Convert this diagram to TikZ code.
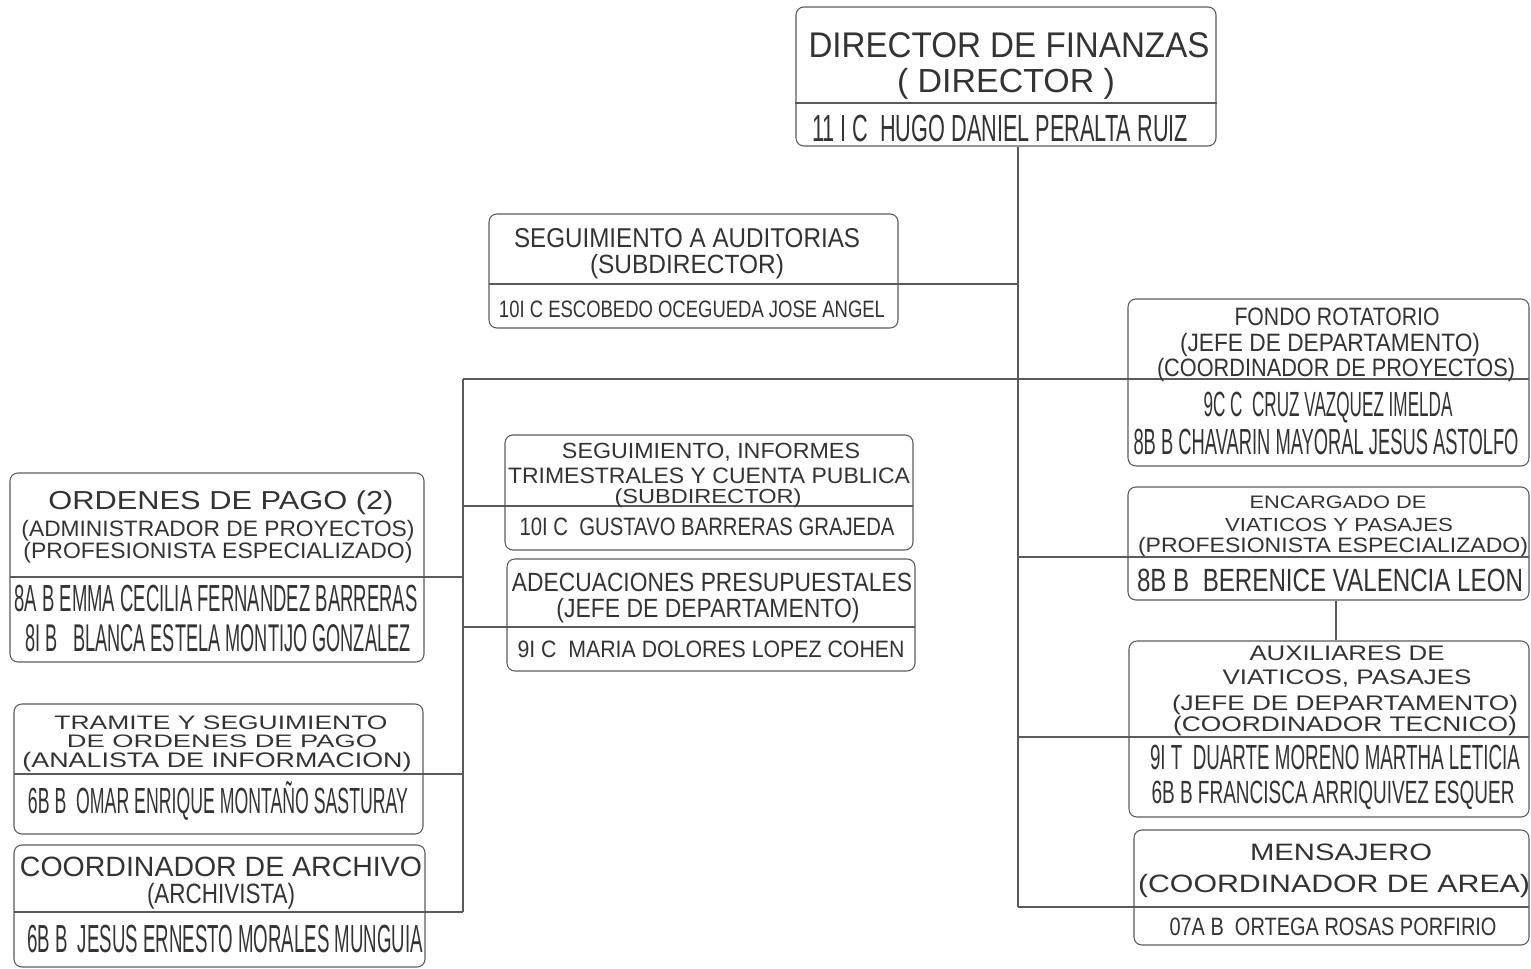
\documentclass[tikz,border=0pt]{standalone}
\usepackage{fontspec}
\setmainfont{Liberation Sans}
\usepackage{graphicx}
\usetikzlibrary{fit}
\definecolor{inkgray}{HTML}{333333}
\definecolor{linegray}{HTML}{5A5A5A}
\newlength{\px}
\setlength{\px}{0.02cm}
% size (pt), width (px), text
\newcommand{\orgtxt}[3]{\resizebox{#2\px}{\height}{\fontsize{#1}{#1}\selectfont #3}}
\tikzset{
  orgbox/.style={draw=linegray, line width=0.6pt, rounded corners=4.5pt, inner sep=0pt},
  lbl/.style={anchor=base, inner sep=0pt, text=inkgray},
  link/.style={draw=linegray, line width=0.6pt},
}

\begin{document}
\begin{tikzpicture}[x=0.02cm, y=-0.02cm]
  \useasboundingbox (0,0) rectangle (1531,969);

  % Boxes
  \node[orgbox, fit={(796,7) (1216,146)}] (dir) {};
  \node[orgbox, fit={(489,214) (898,328)}] (aud) {};
  \node[orgbox, fit={(1128,299) (1529,466)}] (fondo) {};
  \node[orgbox, fit={(10,473) (424,662)}] (ordenes) {};
  \node[orgbox, fit={(505,435) (913,550)}] (informes) {};
  \node[orgbox, fit={(507,559) (915,671)}] (adecua) {};
  \node[orgbox, fit={(1128,487) (1529,600)}] (encargado) {};
  \node[orgbox, fit={(1129,641) (1529,817)}] (auxiliar) {};
  \node[orgbox, fit={(1134,830) (1529,945)}] (mensajero) {};
  \node[orgbox, fit={(14,704) (423,834)}] (tramite) {};
  \node[orgbox, fit={(14,845) (425,967)}] (archivo) {};

  % Trunks and dividers
  \coordinate (trunk) at (1018,0);
  \coordinate (ltrunk) at (463,379);
  \coordinate (viat) at (1336,0);
  \coordinate (dir-div) at (795,103);
  \coordinate (aud-div) at (489,284);
  \coordinate (fondo-div) at (1529,379);
  \coordinate (ordenes-div) at (10,577);
  \coordinate (informes-div) at (913,506);
  \coordinate (adecua-div) at (915,627);
  \coordinate (encargado-div) at (1529,557);
  \coordinate (auxiliar-div) at (1529,737);
  \coordinate (mensajero-div) at (1529,907);
  \coordinate (tramite-div) at (14,774);
  \coordinate (archivo-div) at (14,912);

  % Links
  \draw[link] (dir-div) -- (dir-div -| dir.east);
  \draw[link] (dir.south -| trunk) -- (mensajero-div -| trunk);
  \draw[link] (aud-div) -- (aud-div -| trunk);
  \draw[link] (fondo-div) -- (ltrunk);
  \draw[link] (ltrunk) -- (archivo-div -| ltrunk);
  \draw[link] (ordenes-div) -- (ordenes-div -| ltrunk);
  \draw[link] (informes-div) -- (informes-div -| ltrunk);
  \draw[link] (adecua-div) -- (adecua-div -| ltrunk);
  \draw[link] (tramite-div) -- (tramite-div -| ltrunk);
  \draw[link] (archivo-div) -- (archivo-div -| ltrunk);
  \draw[link] (encargado-div) -- (encargado-div -| trunk);
  \draw[link] (auxiliar-div) -- (auxiliar-div -| trunk);
  \draw[link] (mensajero-div) -- (mensajero-div -| trunk);
  \draw[link] (encargado.south -| viat) -- (auxiliar.north -| viat);

  % Director
  \node[lbl] (dir-t1) at (1009,58) {\orgtxt{20.3}{401}{DIRECTOR DE FINANZAS}};
  \node[lbl] (dir-t2) at (1006,93) {\orgtxt{19}{218}{( DIRECTOR )}};
  \node[lbl] (dir-n1) at (1000,142) {\orgtxt{21.5}{376}{11 I C~ HUGO DANIEL PERALTA RUIZ}};

  % Seguimiento a auditorias
  \node[lbl] (aud-t1) at (687,248) {\orgtxt{15.5}{346}{SEGUIMIENTO A AUDITORIAS}};
  \node[lbl] (aud-t2) at (687,274) {\orgtxt{15}{194}{(SUBDIRECTOR)}};
  \node[lbl] (aud-n1) at (692,317.5) {\orgtxt{13.5}{386}{10I C ESCOBEDO OCEGUEDA JOSE ANGEL}};

  % Fondo rotatorio
  \node[lbl] (fondo-t1) at (1337,326) {\orgtxt{14.3}{205}{FONDO ROTATORIO}};
  \node[lbl] (fondo-t2) at (1330,352) {\orgtxt{14.3}{300}{(JEFE DE DEPARTAMENTO)}};
  \node[lbl] (fondo-t3) at (1336,377) {\orgtxt{14.3}{358}{(COORDINADOR DE PROYECTOS)}};
  \node[lbl] (fondo-n1) at (1328,417) {\orgtxt{19.9}{249}{9C C~ CRUZ VAZQUEZ IMELDA}};
  \node[lbl] (fondo-n2) at (1326,454) {\orgtxt{20.7}{385}{8B B CHAVARIN MAYORAL JESUS ASTOLFO}};

  % Ordenes de pago
  \node[lbl] (ordenes-t1) at (221,509) {\orgtxt{14.8}{345}{ORDENES DE PAGO (2)}};
  \node[lbl] (ordenes-t2) at (218,536.5) {\orgtxt{12.7}{393}{(ADMINISTRADOR DE PROYECTOS)}};
  \node[lbl] (ordenes-t3) at (218,558) {\orgtxt{12.7}{389}{(PROFESIONISTA ESPECIALIZADO)}};
  \node[lbl] (ordenes-n1) at (216,611.5) {\orgtxt{21.5}{403}{8A B EMMA CECILIA FERNANDEZ BARRERAS}};
  \node[lbl] (ordenes-n2) at (218,651) {\orgtxt{22}{385}{8I B~~ BLANCA ESTELA MONTIJO GONZALEZ}};

  % Seguimiento, informes
  \node[lbl] (informes-t1) at (711,458.5) {\orgtxt{12.5}{298}{SEGUIMIENTO, INFORMES}};
  \node[lbl] (informes-t2) at (709,483) {\orgtxt{12.7}{402}{TRIMESTRALES Y CUENTA PUBLICA}};
  \node[lbl] (informes-t3) at (708,503) {\orgtxt{11.6}{187}{(SUBDIRECTOR)}};
  \node[lbl] (informes-n1) at (707,535) {\orgtxt{14.3}{375}{10I C~ GUSTAVO BARRERAS GRAJEDA}};

  % Adecuaciones presupuestales
  \node[lbl] (adecua-t1) at (712,591.5) {\orgtxt{15}{400}{ADECUACIONES PRESUPUESTALES}};
  \node[lbl] (adecua-t2) at (708,617.5) {\orgtxt{15}{303}{(JEFE DE DEPARTAMENTO)}};
  \node[lbl] (adecua-n1) at (711,657.5) {\orgtxt{13.5}{387}{9I C~ MARIA DOLORES LOPEZ COHEN}};

  % Encargado de viaticos
  \node[lbl] (encargado-t1) at (1338,508) {\orgtxt{10.3}{177}{ENCARGADO DE}};
  \node[lbl] (encargado-t2) at (1339,531) {\orgtxt{10.8}{228}{VIATICOS Y PASAJES}};
  \node[lbl] (encargado-t3) at (1333,552.5) {\orgtxt{11.9}{390}{(PROFESIONISTA ESPECIALIZADO)}};
  \node[lbl] (encargado-n1) at (1330,591.5) {\orgtxt{18.3}{386}{8B B~ BERENICE VALENCIA LEON}};

  % Auxiliares
  \node[lbl] (auxiliar-t1) at (1347,660.5) {\orgtxt{12}{195}{AUXILIARES DE}};
  \node[lbl] (auxiliar-t2) at (1347,684.5) {\orgtxt{12}{249}{VIATICOS, PASAJES}};
  \node[lbl] (auxiliar-t3) at (1345,710.5) {\orgtxt{12}{346}{(JEFE DE DEPARTAMENTO)}};
  \node[lbl] (auxiliar-t4) at (1345,731.5) {\orgtxt{12}{344}{(COORDINADOR TECNICO)}};
  \node[lbl] (auxiliar-n1) at (1335,769.5) {\orgtxt{19.9}{370}{9I T~ DUARTE MORENO MARTHA LETICIA}};
  \node[lbl] (auxiliar-n2) at (1333,803.5) {\orgtxt{18.3}{363}{6B B FRANCISCA ARRIQUIVEZ ESQUER}};

  % Mensajero
  \node[lbl] (mensajero-t1) at (1341,860.5) {\orgtxt{13.5}{182}{MENSAJERO}};
  \node[lbl] (mensajero-t2) at (1334,892) {\orgtxt{14.3}{392}{(COORDINADOR DE AREA)}};
  \node[lbl] (mensajero-n1) at (1333,935) {\orgtxt{14.3}{327}{07A B~ ORTEGA ROSAS PORFIRIO}};

  % Tramite
  \node[lbl] (tramite-t1) at (221,729) {\orgtxt{11.1}{333}{TRAMITE Y SEGUIMIENTO}};
  \node[lbl] (tramite-t2) at (222,747.5) {\orgtxt{10.3}{310}{DE ORDENES DE PAGO}};
  \node[lbl] (tramite-t3) at (217,767.5) {\orgtxt{12}{389}{(ANALISTA DE INFORMACION)}};
  \node[lbl] (tramite-n1) at (218,813) {\orgtxt{20.7}{380}{6B B~ OMAR ENRIQUE MONTAÑO SASTURAY}};

  % Archivo
  \node[lbl] (archivo-t1) at (221,876) {\orgtxt{15.9}{402}{COORDINADOR DE ARCHIVO}};
  \node[lbl] (archivo-t2) at (221,903) {\orgtxt{15.9}{148}{(ARCHIVISTA)}};
  \node[lbl] (archivo-n1) at (225,952) {\orgtxt{22.3}{396}{6B B~ JESUS ERNESTO MORALES MUNGUIA}};
\end{tikzpicture}
\end{document}
